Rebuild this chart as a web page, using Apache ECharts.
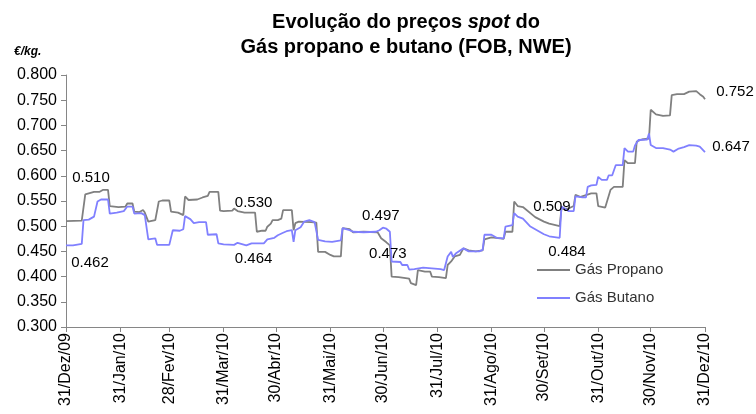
<!DOCTYPE html>
<html>
<head>
<meta charset="utf-8">
<script src="https://cdn.jsdelivr.net/npm/echarts@6/dist/echarts.min.js"></script>
<style>
  html, body { margin: 0; padding: 0; background: #fff; }
  #chart { width: 756px; height: 414px; }
</style>
</head>
<body>
<div id="chart"></div>
<script>
// Days counted from 31/Dez/09 (day 0) to 31/Dez/10 (day 365)
const dayCount = 366;

// Month-end ticks on the date axis
const tickDays = [0, 31, 59, 90, 120, 151, 181, 212, 243, 273, 304, 334, 365];
const tickLabels = ['31/Dez/09', '31/Jan/10', '28/Fev/10', '31/Mar/10', '30/Abr/10', '31/Mai/10',
  '30/Jun/10', '31/Jul/10', '31/Ago/10', '30/Set/10', '31/Out/10', '30/Nov/10', '31/Dez/10'];

// Gás Propano spot price, €/kg, as [day, price]
const propano = [
  [0, 0.510], [9, 0.511], [10, 0.514], [11, 0.563], [14, 0.566], [16, 0.568], [19, 0.568],
  [21, 0.572], [24, 0.572], [25, 0.540], [30, 0.538], [34, 0.539], [35, 0.545], [38, 0.545],
  [39, 0.529], [42, 0.528], [44, 0.532], [45, 0.527], [46, 0.527], [47, 0.509], [51, 0.512],
  [52, 0.512], [53, 0.549], [55, 0.551], [59, 0.551], [60, 0.529], [64, 0.527], [67, 0.522],
  [68, 0.559], [70, 0.552], [75, 0.553], [78, 0.557], [81, 0.560], [82, 0.568], [87, 0.568],
  [88, 0.531], [90, 0.530], [95, 0.531], [96, 0.535], [98, 0.530], [102, 0.527], [108, 0.527],
  [109, 0.489], [112, 0.491], [114, 0.491], [115, 0.499], [117, 0.505], [118, 0.512], [121, 0.512],
  [123, 0.515], [124, 0.532], [129, 0.532], [130, 0.492], [131, 0.506], [133, 0.509], [140, 0.508],
  [143, 0.507], [144, 0.449], [148, 0.449], [151, 0.443], [153, 0.440], [157, 0.440], [158, 0.496],
  [162, 0.494], [164, 0.488], [170, 0.489], [178, 0.488], [179, 0.486], [180, 0.476], [181, 0.473],
  [183, 0.468], [185, 0.462], [186, 0.400], [190, 0.399], [196, 0.396], [197, 0.387], [200, 0.383],
  [201, 0.413], [205, 0.410], [208, 0.410], [209, 0.400], [213, 0.399], [217, 0.397], [218, 0.423],
  [220, 0.430], [222, 0.440], [225, 0.443], [227, 0.456], [230, 0.452], [234, 0.450], [238, 0.452],
  [239, 0.474], [243, 0.478], [248, 0.476], [250, 0.475], [251, 0.489], [255, 0.489], [256, 0.549],
  [258, 0.540], [261, 0.538], [268, 0.518], [273, 0.509], [276, 0.505], [282, 0.500], [283, 0.535],
  [287, 0.535], [290, 0.540], [291, 0.562], [294, 0.558], [300, 0.565], [303, 0.565], [304, 0.540],
  [308, 0.537], [309, 0.535], [311, 0.572], [313, 0.578], [318, 0.578], [319, 0.631], [321, 0.625],
  [325, 0.625], [326, 0.668], [329, 0.672], [333, 0.674], [334, 0.731], [337, 0.722], [341, 0.719],
  [345, 0.720], [346, 0.760], [349, 0.762], [353, 0.762], [356, 0.767], [360, 0.768], [362, 0.762],
  [364, 0.757], [365, 0.752]
];

// Gás Butano spot price, €/kg, as [day, price]
const butano = [
  [0, 0.462], [4, 0.462], [5, 0.465], [9, 0.465], [10, 0.512], [13, 0.513], [14, 0.516], [16, 0.519],
  [17, 0.519], [18, 0.549], [20, 0.553], [24, 0.553], [25, 0.525], [29, 0.527], [33, 0.530],
  [34, 0.533], [35, 0.539], [38, 0.539], [39, 0.525], [43, 0.526], [44, 0.527], [45, 0.522],
  [46, 0.522], [47, 0.474], [51, 0.476], [52, 0.463], [59, 0.463], [60, 0.466], [61, 0.492],
  [65, 0.491], [67, 0.494], [68, 0.520], [71, 0.514], [73, 0.506], [76, 0.508], [80, 0.508],
  [81, 0.483], [86, 0.484], [87, 0.466], [90, 0.464], [96, 0.463], [98, 0.467], [103, 0.462],
  [106, 0.466], [113, 0.466], [115, 0.474], [119, 0.477], [121, 0.482], [124, 0.487], [126, 0.490],
  [129, 0.492], [130, 0.469], [131, 0.492], [134, 0.498], [136, 0.509], [139, 0.512], [142, 0.508],
  [143, 0.508], [144, 0.473], [148, 0.470], [152, 0.469], [157, 0.472], [158, 0.496], [162, 0.492],
  [164, 0.489], [170, 0.488], [177, 0.489], [179, 0.492], [181, 0.497], [183, 0.495], [185, 0.489],
  [186, 0.430], [191, 0.429], [192, 0.423], [195, 0.423], [196, 0.414], [199, 0.415], [200, 0.418],
  [204, 0.418], [205, 0.415], [214, 0.415], [216, 0.413], [217, 0.413], [218, 0.440], [220, 0.449],
  [221, 0.439], [223, 0.447], [227, 0.456], [230, 0.450], [236, 0.450], [238, 0.453], [239, 0.483],
  [243, 0.483], [246, 0.477], [250, 0.476], [251, 0.499], [255, 0.502], [256, 0.526], [258, 0.519],
  [261, 0.515], [265, 0.500], [269, 0.492], [273, 0.484], [276, 0.480], [282, 0.477], [283, 0.539],
  [287, 0.530], [290, 0.530], [291, 0.559], [295, 0.557], [297, 0.557], [298, 0.578], [300, 0.581],
  [303, 0.582], [304, 0.598], [306, 0.592], [309, 0.592], [310, 0.601], [312, 0.601], [313, 0.611],
  [314, 0.621], [318, 0.621], [319, 0.655], [321, 0.648], [324, 0.648], [325, 0.660], [327, 0.671],
  [332, 0.672], [333, 0.684], [334, 0.661], [337, 0.655], [341, 0.655], [345, 0.652], [347, 0.648],
  [350, 0.654], [353, 0.657], [356, 0.661], [360, 0.660], [362, 0.658], [365, 0.647]
];

// Y-axis scale, €/kg
const yMin = 0.300, yMax = 0.800, yStep = 0.050;

// Days whose value is printed, with the label offset (px) from the point
const propanoLabelOffsets = { 0: [25, -43], 90: [30, -8], 181: [5, 14], 273: [8, -15], 365: [30, -7] };
const butanoLabelOffsets  = { 0: [24, 18], 90: [30, 15], 181: [-2, -12], 273: [23, 18], 365: [26, -5] };

const FONT = '"Liberation Sans", Arial, sans-serif';
const categories = Array.from({ length: dayCount }, (_, i) => String(i));
const isTick = (idx) => tickDays.indexOf(idx) !== -1;

function buildData(points, offsets) {
  return points.map(([d, v]) => {
    const off = offsets[d];
    if (!off) return [d, v];
    return {
      value: [d, v],
      label: {
        show: true,
        position: 'inside',
        offset: off,
        formatter: (p) => p.value[1].toFixed(3),
        color: '#000',
        fontFamily: FONT,
        fontSize: 15
      }
    };
  });
}

function lineSeries(name, color, points, offsets) {
  return {
    name: name,
    type: 'line',
    data: buildData(points, offsets),
    showSymbol: true,
    showAllSymbol: true,
    symbol: 'circle',
    symbolSize: 0,
    itemStyle: { color: color },
    lineStyle: { color: color, width: 1.8 },
    emphasis: { disabled: true },
    animation: false,
    z: 2
  };
}

const chart = echarts.init(document.getElementById('chart'), null, { renderer: 'canvas' });

chart.setOption({
  backgroundColor: '#ffffff',
  animation: false,
  graphic: [
    {
      type: 'text', x: 406, y: 22,
      style: {
        text: '{b|Evolução do preços }{bi|spot}{b| do}',
        align: 'center', verticalAlign: 'middle',
        rich: {
          b: { fontFamily: FONT, fontSize: 20, fontWeight: 'bold', fill: '#000' },
          bi: { fontFamily: FONT, fontSize: 20, fontWeight: 'bold', fontStyle: 'italic', fill: '#000' }
        }
      }
    },
    {
      type: 'text', x: 406, y: 47,
      style: {
        text: 'Gás propano e butano (FOB, NWE)',
        align: 'center', verticalAlign: 'middle',
        font: 'bold 20px ' + FONT, fill: '#000'
      }
    },
    {
      type: 'text', x: 14, y: 52,
      style: {
        text: '€/kg.',
        verticalAlign: 'middle',
        font: 'italic bold 12px ' + FONT, fill: '#000'
      }
    }
  ],
  legend: {
    orient: 'vertical',
    left: 537,
    top: 261,
    padding: 0,
    itemGap: 10,
    itemWidth: 33,
    itemHeight: 2,
    icon: 'rect',
    selectedMode: false,
    textStyle: { fontFamily: FONT, fontSize: 15, color: '#333', lineHeight: 18 },
    data: ['Gás Propano', 'Gás Butano']
  },
  grid: { left: 66, right: 51, top: 75, bottom: 87, containLabel: false },
  xAxis: {
    type: 'category',
    data: categories,
    boundaryGap: false,
    axisLine: { lineStyle: { color: '#868686', width: 1 } },
    axisTick: {
      show: true,
      interval: (idx) => isTick(idx),
      length: 5,
      lineStyle: { color: '#868686' }
    },
    axisLabel: {
      interval: (idx) => isTick(idx),
      rotate: 90,
      margin: 6,
      color: '#000',
      fontFamily: FONT,
      fontSize: 16,
      formatter: (value, idx) => {
        const k = tickDays.indexOf(Number(value));
        return k === -1 ? '' : tickLabels[k];
      }
    },
    splitLine: { show: false }
  },
  yAxis: {
    type: 'value',
    min: yMin,
    max: yMax,
    interval: yStep,
    axisLine: { show: true, lineStyle: { color: '#868686', width: 1 } },
    axisTick: { show: true, length: 5, lineStyle: { color: '#868686' } },
    axisLabel: {
      color: '#000',
      fontFamily: FONT,
      fontSize: 16,
      margin: 9,
      formatter: (v) => v.toFixed(3)
    },
    splitLine: { show: false }
  },
  series: [
    lineSeries('Gás Propano', '#808080', propano, propanoLabelOffsets),
    lineSeries('Gás Butano', '#8080ff', butano, butanoLabelOffsets)
  ]
});
</script>
</body>
</html>
